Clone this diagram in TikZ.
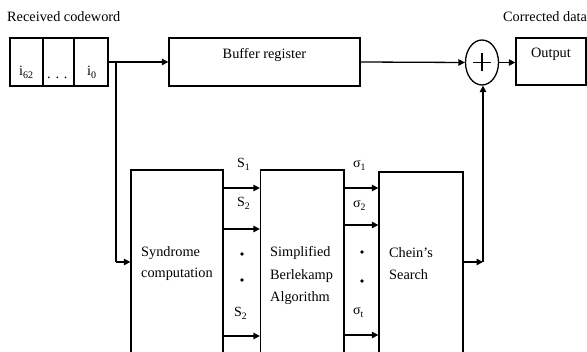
\documentclass[tikz,border=0pt]{standalone}
\usepackage{fontspec}
\setmainfont{Liberation Serif}
\usetikzlibrary{arrows.meta,shapes.geometric}
\begin{document}
\begin{tikzpicture}[x=1pt,y=-1pt,
  blk/.style={draw, line width=1.3pt, inner sep=0pt},
  txt/.style={inner sep=0pt, anchor=base west, font=\fontsize{14.3}{16}\selectfont},
  lbl/.style={inner sep=0pt, anchor=base west, font=\fontsize{14}{16}\selectfont},
  dotmark/.style={circle, fill, inner sep=0pt, minimum size=3.8pt},
  arr/.style={line width=1.3pt, -{Triangle[length=6.5pt,width=6.5pt]}},
  wire/.style={line width=1.3pt}]
\clip (0,0) rectangle (587,352);

% shift register holding the received word
\node[blk, minimum width=98pt, minimum height=48pt] (reg) at (59,62) {};
\draw[wire] (43,0 |- reg.north) -- (43,0 |- reg.south);
\draw[wire] (74,0 |- reg.north) -- (74,0 |- reg.south);
\node[txt] (i62) at (19,76) {i\textsubscript{62}};
\node[txt] (idots) at (47,79) {. . .};
\node[txt] (i0) at (87,76) {i\textsubscript{0}};

% top row
\node[blk, minimum width=191pt, minimum height=48pt] (buf) at (264.5,62) {};
\node[txt, anchor=base] (buftxt) at (264.5,59) {Buffer register};
\node[blk, ellipse, minimum width=33pt, minimum height=45pt] (add) at (482,62.5) {};
\draw[wire] ([xshift=-9pt]add.center) -- ([xshift=9pt]add.center);
\draw[wire] ([yshift=-9pt]add.center) -- ([yshift=9pt]add.center);
\node[blk, minimum width=70pt, minimum height=47pt] (out) at (551,61.5) {};
\node[txt, anchor=base] (outtxt) at (551,58) {Output};

\node[txt] (rcv) at (7,22) {Received codeword};
\node[txt] (cor) at (503,22) {Corrected data};

% decoder blocks
\node[blk, minimum width=92pt, minimum height=192pt] (syn) at (177,266) {};
\node[txt] (syn1) at (141,257) {Syndrome};
\node[txt] (syn2) at (141,278) {computation};

\node[blk, minimum width=83.5pt, minimum height=192pt] (ber) at (302.25,266) {};
\node[txt] (ber1) at (270,257) {Simplified};
\node[txt] (ber2) at (270,280) {Berlekamp};
\node[txt] (ber3) at (270,302) {Algorithm};

\node[blk, minimum width=84pt, minimum height=190pt] (che) at (421,267) {};
\node[txt] (che1) at (389,258) {Chein’s};
\node[txt] (che2) at (389,280) {Search};

% data path
\coordinate (split) at (116,62);
\draw[arr] (reg.east) -- (buf.west);
\draw[wire] (split) -- (split |- 0,262);
\draw[arr] (split |- 0,262) -- (syn.west |- 0,262);
\draw[arr] (buf.east) -- (add.west);
\draw[arr] (add.east) -- (out.west |- add.east);

% syndromes
\draw[arr] (syn.east |- 0,188) -- (ber.west |- 0,188);
\draw[arr] (syn.east |- 0,229) -- (ber.west |- 0,229);
\draw[arr] (syn.east |- 0,336) -- (ber.west |- 0,336);
\node[lbl] (s1) at (237,168) {S\textsubscript{1}};
\node[lbl] (s2) at (237,207) {S\textsubscript{2}};
\node[lbl] (sn) at (234,317) {S\textsubscript{2}};
\node[dotmark] (sd1) at (242,254) {};
\node[dotmark] (sd2) at (242,280) {};

% error locator coefficients
\draw[arr] (ber.east |- 0,188) -- (che.west |- 0,188);
\draw[arr] (ber.east |- 0,225) -- (che.west |- 0,225);
\draw[arr] (ber.east |- 0,335) -- (che.west |- 0,335);
\node[lbl] (g1) at (353,168) {σ\textsubscript{1}};
\node[lbl] (g2) at (353,208) {σ\textsubscript{2}};
\node[lbl] (gt) at (353,315) {σ\textsubscript{t}};
\node[dotmark] (gd1) at (362,252) {};
\node[dotmark] (gd2) at (362,281) {};

% error pattern back to the adder
\coordinate (ret) at (483,262);
\draw[arr] (che.east |- ret) -- (ret);
\draw[arr] (ret) -- (ret |- add.south);
\end{tikzpicture}
\end{document}
